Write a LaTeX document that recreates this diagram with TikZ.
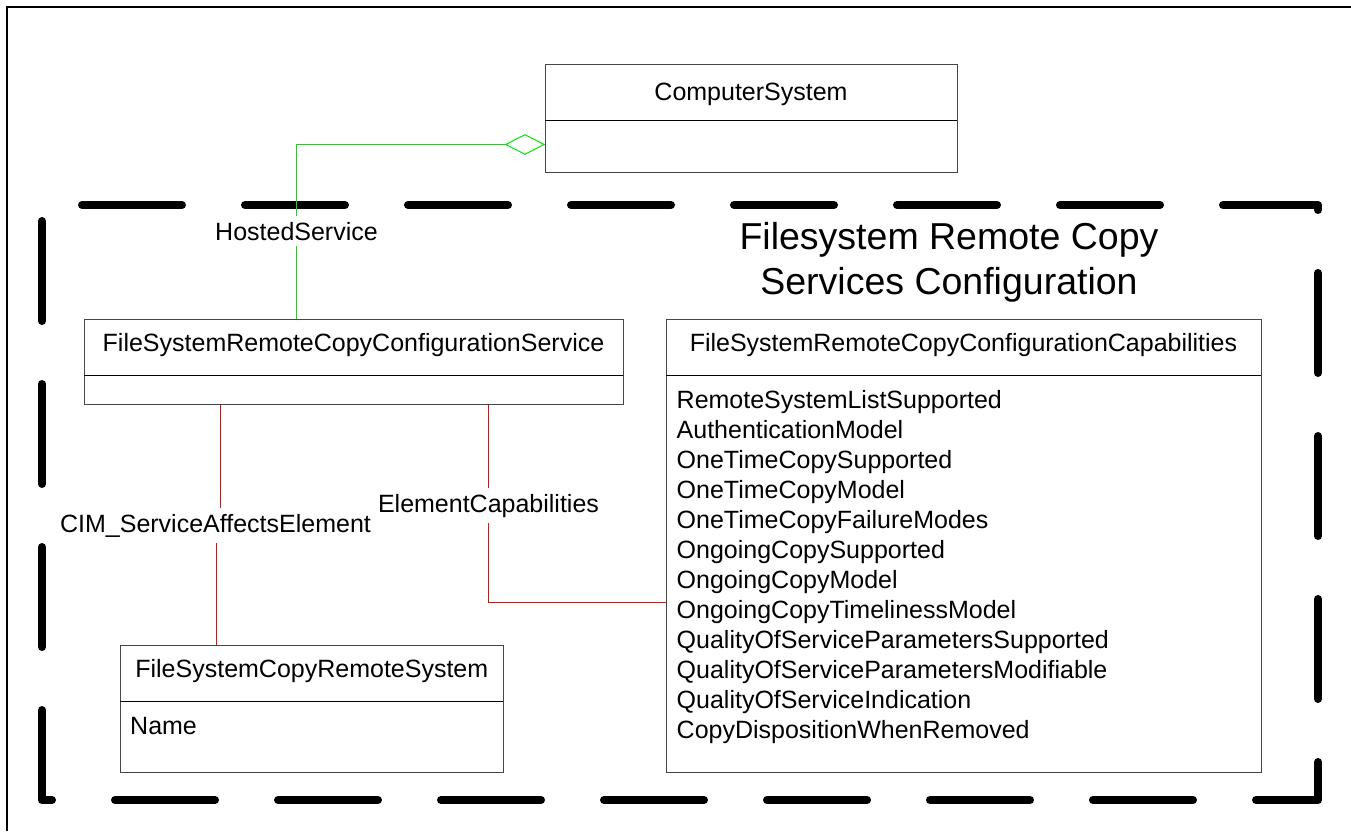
\documentclass[tikz,border=0pt]{standalone}
\usepackage{fontspec}
\setmainfont{Liberation Sans}
\usetikzlibrary{shapes.geometric}
\definecolor{aggreen}{RGB}{0,230,0}
\definecolor{boxgray}{RGB}{70,70,70}
\begin{document}
\begin{tikzpicture}[x=1pt,y=-1pt,
  cls/.style={draw=boxgray, line width=1.3pt, fill=white, inner sep=0pt, anchor=north west},
  divider/.style={draw=black, line width=1.1pt},
  nm/.style={font=\fontsize{25}{30}\selectfont, inner sep=0pt, anchor=base},
  attr/.style={font=\fontsize{25}{30}\selectfont, inner sep=0pt, align=left, anchor=north west},
  lbl/.style={font=\fontsize{25}{30}\selectfont, inner xsep=1pt, inner ysep=6pt, anchor=base},
  hosted/.style={draw=aggreen, line width=1pt},
  assoc/.style={draw=red, line width=1pt},
  pkg/.style={draw=black, line width=8pt, line cap=round, line join=round, dash pattern=on 100pt off 63pt, dash phase=123pt},
]
\useasboundingbox (0,0) rectangle (1351,831);
% outer frame
\draw[line width=2pt] (7,831) -- (7,7) -- (1351,7);
% package frame
\draw[pkg] (42,205) -- (1318,205) -- (1318,800) -- (42,800) -- cycle;
% title
\node[font=\fontsize{37.5}{45}\selectfont, align=center, inner sep=0pt, anchor=north] (title) at (949,222) {Filesystem Remote Copy\\Services Configuration};

% ComputerSystem
\node[cls, minimum width=412pt, minimum height=108pt] (cs) at (545,64) {};
\draw[divider] (545,120.7) -- (957,120.7);
\node[nm] (csname) at (751,100.7) {ComputerSystem};

% Service
\node[cls, minimum width=539pt, minimum height=85pt] (svc) at (84,319) {};
\draw[divider] (84,375.7) -- (623,375.7);
\node[nm] (svcname) at (353.5,351.7) {FileSystemRemoteCopyConfigurationService};

% Capabilities
\node[cls, minimum width=595pt, minimum height=453pt] (caps) at (666,319) {};
\draw[divider] (666,375.7) -- (1261,375.7);
\node[nm] (capsname) at (963.5,351.7) {FileSystemRemoteCopyConfigurationCapabilities};
\node[attr] (capsattr) at (676.5,390) {RemoteSystemListSupported\\AuthenticationModel\\OneTimeCopySupported\\OneTimeCopyModel\\OneTimeCopyFailureModes\\OngoingCopySupported\\OngoingCopyModel\\OngoingCopyTimelinessModel\\QualityOfServiceParametersSupported\\QualityOfServiceParametersModifiable\\QualityOfServiceIndication\\CopyDispositionWhenRemoved};

% Remote system
\node[cls, minimum width=383pt, minimum height=127pt] (rs) at (120,645) {};
\draw[divider] (120,701.7) -- (503,701.7);
\node[nm] (rsname) at (311.8,677.3) {FileSystemCopyRemoteSystem};
\node[nm, anchor=base west] (rsattr) at (130,734) {Name};

% aggregation diamond
\node[diamond, draw=aggreen, line width=1pt, fill=white, inner sep=0pt, minimum width=39pt, minimum height=20pt, anchor=east] (agg) at (cs.west |- 0,144.5) {};

% labels
\node[lbl] (hslbl) at (296.5,240) {HostedService};
\node[lbl] (eclbl) at (488.5,512) {ElementCapabilities};
\node[lbl] (cimlbl) at (215.5,532) {CIM\_ServiceAffectsElement};

% connectors
\draw[hosted] (svc.north -| hslbl) -- (hslbl.south);
\draw[hosted] (hslbl.north) |- (agg.west);
\draw[assoc] (svc.south -| eclbl) -- (eclbl.north);
\draw[assoc] (eclbl.south) |- (caps.west |- 0,602.5);
\draw[assoc] (svc.south -| 220.5,0) -- (cimlbl.north -| 220.5,0);
\draw[assoc] (cimlbl.south -| 216.5,0) -- (rs.north -| 216.5,0);
\end{tikzpicture}
\end{document}
